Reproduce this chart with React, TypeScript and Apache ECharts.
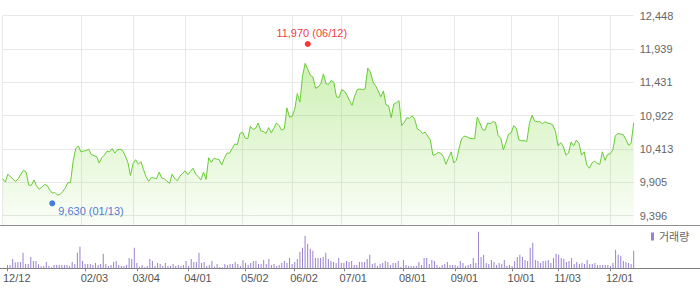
import React, { useEffect, useRef } from 'react';
import * as echarts from 'echarts';

// Trading days (KRX) per month, 2024-12-12 .. 2025-12-12
const dec2024 = [12, 13, 16, 17, 18, 19, 20, 23, 24, 26, 27, 30];
const jan2025 = [2, 3, 6, 7, 8, 9, 10, 13, 14, 15, 16, 17, 20, 21, 22, 23, 24, 31];
const feb2025 = [3, 4, 5, 6, 7, 10, 11, 12, 13, 14, 17, 18, 19, 20, 21, 24, 25, 26, 27, 28];
const mar2025 = [4, 5, 6, 7, 10, 11, 12, 13, 14, 17, 18, 19, 20, 21, 24, 25, 26, 27, 28, 31];
const apr2025 = [1, 2, 3, 4, 7, 8, 9, 10, 11, 14, 15, 16, 17, 18, 21, 22, 23, 24, 25, 28, 29, 30];
const may2025 = [2, 7, 8, 9, 12, 13, 14, 15, 16, 19, 20, 21, 22, 23, 26, 27, 28, 29, 30];
const jun2025 = [2, 4, 5, 9, 10, 11, 12, 13, 16, 17, 18, 19, 20, 23, 24, 25, 26, 27, 30];
const jul2025 = [1, 2, 3, 4, 7, 8, 9, 10, 11, 14, 15, 16, 17, 18, 21, 22, 23, 24, 25, 28, 29, 30, 31];
const aug2025 = [1, 4, 5, 6, 7, 8, 11, 12, 13, 14, 18, 19, 20, 21, 22, 25, 26, 27, 28, 29];
const sep2025 = [1, 2, 3, 4, 5, 8, 9, 10, 11, 12, 15, 16, 17, 18, 19, 22, 23, 24, 25, 26, 29, 30];
const oct2025 = [1, 2, 10, 13, 14, 15, 16, 17, 20, 21, 22, 23, 24, 27, 28, 29, 30, 31];
const nov2025 = [3, 4, 5, 6, 7, 10, 11, 12, 13, 14, 17, 18, 19, 20, 21, 24, 25, 26, 27, 28];
const dec2025 = [1, 2, 3, 4, 5, 8, 9, 10, 11, 12];

// Dates that carry a tick label / vertical grid line
const tickDates = [
  '2024-12-12', '2025-02-03', '2025-03-04', '2025-04-01', '2025-05-02', '2025-06-02',
  '2025-07-01', '2025-08-01', '2025-09-01', '2025-10-01', '2025-11-03', '2025-12-01',
];

// Daily close prices
const closes = [
  9960, 9910, 10030, 9990, 9950, 9920, 9960, 10030, 10090, 10060,
  9860, 9860, 9940, 9850, 9800, 9830, 9870, 9860, 9790, 9740,
  9750, 9710, 9720, 9760, 9820, 9900, 9900, 10220, 10420, 10460,
  10370, 10380, 10390, 10410, 10330, 10310, 10300, 10200, 10280, 10320,
  10380, 10370, 10420, 10350, 10400, 10410, 10390, 10310, 10210, 10010,
  10190, 10250, 10180, 10220, 10100, 9990, 9920, 9980, 9970, 9960,
  10060, 9970, 9960, 9920, 9890, 10030, 9960, 9930, 10000, 10040,
  10080, 10020, 10070, 10120, 10030, 9990, 9940, 10060, 9950, 10280,
  10210, 10270, 10260, 10250, 10170, 10270, 10350, 10350, 10420, 10490,
  10480, 10650, 10670, 10580, 10570, 10760, 10710, 10730, 10810, 10690,
  10680, 10650, 10740, 10660, 10730, 10810, 10770, 10700, 10720, 11040,
  10900, 10910, 11020, 11260, 11130, 11530, 11720, 11630, 11540, 11510,
  11340, 11360, 11410, 11560, 11410, 11400, 11460, 11430, 11210, 11200,
  11320, 11300, 11240, 11150, 11080, 11220, 11320, 11330, 11320, 11330,
  11650, 11590, 11440, 11380, 11300, 11210, 11300, 11090, 11070, 10890,
  11100, 11120, 11150, 10770, 10820, 10890, 10880, 10920, 10870, 10720,
  10700, 10650, 10670, 10610, 10550, 10320, 10330, 10360, 10350, 10300,
  10180, 10280, 10370, 10200, 10240, 10420, 10570, 10610, 10600, 10580,
  10570, 10570, 10900, 10810, 10710, 10700, 10810, 10800, 10830, 10820,
  10620, 10580, 10400, 10510, 10640, 10660, 10770, 10730, 10550, 10540,
  10540, 10530, 10800, 10930, 10840, 10830, 10830, 10800, 10830, 10810,
  10800, 10780, 10680, 10460, 10510, 10450, 10320, 10350, 10520, 10460,
  10550, 10500, 10320, 10370, 10170, 10120, 10200, 10230, 10190, 10180,
  10370, 10240, 10330, 10340, 10400, 10620, 10650, 10640, 10630, 10560,
  10470, 10500, 10810,
];

// Daily volume (thousand shares)
const volumes = [
  10, 10, 28, 17, 19, 19, 46, 13, 13, 34,
  22, 22, 12, 6, 7, 19, 7, 3, 10, 10,
  10, 10, 10, 10, 7, 19, 13, 46, 64, 22,
  13, 13, 13, 10, 16, 10, 13, 43, 13, 7,
  10, 19, 22, 10, 7, 7, 10, 31, 28, 61,
  16, 5, 10, 3, 7, 28, 22, 7, 16, 13,
  7, 16, 7, 7, 13, 7, 10, 7, 10, 22,
  7, 28, 19, 19, 46, 16, 19, 7, 10, 22,
  5, 13, 4, 3, 13, 10, 13, 13, 19, 13,
  7, 25, 16, 10, 16, 22, 22, 13, 13, 25,
  13, 28, 10, 13, 7, 10, 16, 22, 16, 31,
  13, 19, 28, 49, 61, 97, 73, 58, 52, 31,
  31, 31, 34, 46, 28, 22, 19, 16, 31, 16,
  16, 22, 19, 22, 10, 10, 19, 19, 19, 28,
  40, 13, 16, 7, 13, 16, 22, 19, 10, 16,
  16, 22, 4, 25, 10, 7, 7, 7, 7, 19,
  10, 31, 31, 13, 25, 22, 10, 4, 10, 13,
  19, 10, 10, 10, 7, 22, 16, 7, 10, 13,
  31, 16, 109, 34, 40, 16, 13, 25, 19, 10,
  16, 13, 25, 7, 10, 7, 22, 34, 40, 34,
  25, 22, 61, 76, 25, 22, 16, 22, 22, 25,
  16, 31, 43, 40, 31, 28, 19, 22, 31, 13,
  19, 13, 16, 13, 25, 13, 13, 16, 10, 10,
  10, 10, 10, 7, 16, 55, 40, 37, 22, 19,
  16, 13, 52,
].map((v) => v * 1000);

const yTickLabels = [12448, 11939, 11431, 10922, 10413, 9905, 9396];
const highPoint = { date: '2025-06-12', value: 11970 };
const lowPoint = { date: '2025-01-13', value: 9630 };

const pad = (n: number) => (n < 10 ? '0' + n : String(n));
const monthList: [number, number, number[]][] = [
  [2024, 12, dec2024], [2025, 1, jan2025], [2025, 2, feb2025], [2025, 3, mar2025],
  [2025, 4, apr2025], [2025, 5, may2025], [2025, 6, jun2025], [2025, 7, jul2025],
  [2025, 8, aug2025], [2025, 9, sep2025], [2025, 10, oct2025], [2025, 11, nov2025],
  [2025, 12, dec2025],
];
const dates: string[] = [];
monthList.forEach(([y, m, days]) => days.forEach((d) => dates.push(`${y}-${pad(m)}-${pad(d)}`)));

const fmt = (n: number) => String(n).replace(/\B(?=(\d{3})+(?!\d))/g, ',');
const mmdd = (s: string) => s.slice(5, 7) + '/' + s.slice(8, 10);
const tickSet = new Set(tickDates);
const isTick = (i: number) => tickSet.has(dates[i]);

const FONT = '"Liberation Sans", Arial, "Noto Sans CJK KR", sans-serif';
const GRID_L = 2.7;
const GRID_R = 66.3;

export default function App() {
  const ref = useRef<HTMLDivElement>(null);
  useEffect(() => {
    if (!ref.current) return;
    const chart = echarts.init(ref.current, undefined, { renderer: 'svg' });
    chart.setOption({
      animation: false,
      backgroundColor: '#ffffff',
      textStyle: { fontFamily: FONT },
      grid: [
        { left: GRID_L, right: GRID_R, top: 15.7, height: 209.3 },
        { left: GRID_L, right: GRID_R, top: 230, height: 38.3 },
      ],
      legend: {
        data: [{ name: '거래량', icon: 'rect' }],
        left: 651,
        top: 231,
        padding: 0,
        itemWidth: 3,
        itemHeight: 8,
        textStyle: { fontSize: 11, color: '#666', fontFamily: FONT },
        selectedMode: false,
      },
      xAxis: [
        {
          type: 'category',
          gridIndex: 0,
          data: dates,
          boundaryGap: false,
          axisLine: { show: false },
          axisTick: { show: false },
          axisLabel: { show: false },
          splitLine: {
            show: true,
            interval: (i: number) => isTick(i),
            lineStyle: { color: '#e8e8e8', width: 1 },
          },
        },
        {
          type: 'category',
          gridIndex: 1,
          data: dates,
          boundaryGap: false,
          axisLine: { show: false },
          axisTick: {
            show: true,
            interval: (i: number) => isTick(i),
            length: 3,
            lineStyle: { color: '#888' },
          },
          axisLabel: {
            show: true,
            interval: (i: number) => isTick(i),
            formatter: (v: string) => mmdd(v),
            align: 'left',
            padding: [0, 0, 0, -4.5],
            margin: 4,
            fontSize: 11,
            color: '#555',
            fontFamily: FONT,
          },
          splitLine: { show: false },
        },
      ],
      yAxis: [
        {
          type: 'value',
          gridIndex: 0,
          position: 'right',
          min: 9253,
          max: 12448,
          axisLine: { show: false },
          axisTick: { show: false, customValues: yTickLabels },
          axisLabel: {
            customValues: yTickLabels,
            formatter: (v: number) => fmt(Math.round(v)),
            margin: 6,
            fontSize: 11,
            color: '#666',
            fontFamily: FONT,
          },
          splitLine: { show: true, lineStyle: { color: '#e8e8e8', width: 1 } },
        },
        {
          type: 'value',
          gridIndex: 1,
          min: 0,
          max: 114000,
          show: false,
          splitLine: { show: false },
        },
      ],
      graphic: [
        { type: 'line', shape: { x1: 0, y1: 225.5, x2: 700, y2: 225.5 }, style: { stroke: '#8f8f8f', lineWidth: 1 }, silent: true },
        { type: 'line', shape: { x1: 0, y1: 268.5, x2: 700, y2: 268.5 }, style: { stroke: '#7f7f7f', lineWidth: 1 }, silent: true },
      ],
      series: [
        {
          type: 'line',
          name: '종가',
          xAxisIndex: 0,
          yAxisIndex: 0,
          data: closes,
          showSymbol: false,
          lineStyle: { color: '#66cc33', width: 1 },
          itemStyle: { color: '#66cc33' },
          areaStyle: {
            origin: 'start',
            color: new echarts.graphic.LinearGradient(0, 0, 0, 1, [
              { offset: 0, color: 'rgba(140,220,80,0.6)' },
              { offset: 1, color: 'rgba(140,220,80,0.06)' },
            ]),
          },
          silent: true,
          z: 2,
        },
        {
          type: 'scatter',
          xAxisIndex: 0,
          yAxisIndex: 0,
          data: [[highPoint.date, highPoint.value]],
          symbolSize: 6,
          symbolOffset: [0, -3],
          itemStyle: { color: '#ff0000' },
          label: {
            show: true,
            position: 'top',
            distance: 3,
            offset: [4, 0],
            formatter: () => `${fmt(highPoint.value)} (${mmdd(highPoint.date)})`,
            color: '#ee0000',
            fontSize: 11,
            fontFamily: FONT,
          },
          silent: true,
          z: 5,
        },
        {
          type: 'scatter',
          xAxisIndex: 0,
          yAxisIndex: 0,
          data: [[lowPoint.date, lowPoint.value]],
          symbolSize: 6,
          symbolOffset: [0, 3],
          itemStyle: { color: '#1a5ad6' },
          label: {
            show: true,
            position: 'right',
            distance: 3,
            offset: [0, 8],
            formatter: () => `${fmt(lowPoint.value)} (${mmdd(lowPoint.date)})`,
            color: '#1755cc',
            fontSize: 11,
            fontFamily: FONT,
          },
          silent: true,
          z: 5,
        },
        {
          type: 'bar',
          name: '거래량',
          xAxisIndex: 1,
          yAxisIndex: 1,
          data: volumes,
          barWidth: 1,
          itemStyle: { color: '#9a80cf' },
          silent: true,
        },
      ],
    });
    return () => chart.dispose();
  }, []);
  return (
    <div
      ref={ref}
      style={{ position: 'absolute', left: 0, top: 0, width: 700, height: 289, background: '#fff' }}
    />
  );
}
